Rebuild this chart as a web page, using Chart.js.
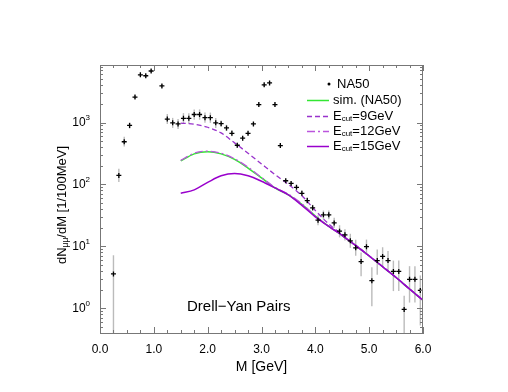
<!DOCTYPE html>
<html lang="en">
<head>
<meta charset="UTF-8">
<title>Drell-Yan Pairs</title>
<script src="https://cdn.jsdelivr.net/npm/chart.js"></script>
<style>
  body { margin: 0; background: #fff; }
  canvas { display: block; }
</style>
</head>
<body>
<canvas id="myChart" width="508" height="392"></canvas>
<script>
// NA50 data points (M in GeV, dN/dM per 100 MeV)
const massBins = [0.25, 0.35, 0.45, 0.55, 0.65, 0.75, 0.85, 0.95, 1.15, 1.25, 1.35, 1.45,
  1.55, 1.65, 1.75, 1.85, 1.95, 2.05, 2.15, 2.25, 2.35, 2.45, 2.55, 2.65, 2.75, 2.85, 2.95,
  3.05, 3.15, 3.25, 3.35, 3.45, 3.55, 3.65, 3.75, 3.85, 3.95, 4.05, 4.15, 4.25, 4.35, 4.45,
  4.55, 4.65, 4.75, 4.85, 4.95, 5.05, 5.15, 5.25, 5.35, 5.45, 5.55, 5.65, 5.75, 5.85, 5.95];
const na50 = [3.6, 140, 490, 900, 2580, 5900, 5700, 6800, 3900, 1140, 990, 950,
  1170, 1170, 1350, 1350, 1200, 1200, 990, 960, 820, 670, 430, 560, 670, 950, 1950,
  4060, 4370, 1950, 425, 115, 104, 90, 72, 55, 42, 26.5, 32.4, 32.4, 24, 17.6,
  15.4, 12.3, 9.5, 5.7, 9.9, 2.8, 5.9, 6.9, 5.9, 3.95, 3.95, 0.96, 2.94, 2.94, 1.95];
const errHi = [7.2, 180, 590, 1010, 2780, 6300, 6100, 7300, 4200, 1370, 1190, 1140,
  1420, 1420, 1630, 1630, 1450, 1450, 1190, 1080, 920, 750, 470, 610, 720, 1020, 2100,
  4370, 4700, 2100, 460, 125, 112, 97, 80, 62, 47, 32, 38, 38, 29, 22,
  19, 16, 12.8, 8.0, 12.9, 4.6, 8.9, 9.7, 8.4, 5.9, 5.9, 1.6, 4.8, 4.8, 3.4];
const errLo = [0.1, 110, 410, 800, 2400, 5500, 5300, 6300, 3600, 950, 820, 790,
  960, 960, 1110, 1110, 990, 990, 820, 860, 730, 600, 390, 510, 620, 880, 1810,
  3770, 4060, 1810, 395, 107, 97, 84, 65, 49, 37.5, 22, 27.5, 27.5, 20, 14,
  12.5, 9.5, 7.1, 3.3, 7.6, 1.08, 3.5, 4.8, 4.0, 1.9, 1.9, 0.1, 1.24, 1.24, 0.53];

// model curves
const curveMass = [1.5, 1.75, 2.0, 2.25, 2.5, 2.75, 3.0, 3.25, 3.5, 3.75, 4.0,
  4.25, 4.5, 4.75, 5.0, 5.25, 5.5, 5.75, 6.0];
const simNA50 = [240, 312, 338, 312, 254, 184, 128, 88, 68, 48, 31,
  21, 15, 10.3, 7.0, 4.7, 3.15, 2.05, 1.35];
const ecut9 = [980, 940, 840, 680, 470, 320, 215, 145, 100, 66, 38,
  23, 15.5, 10.5, 7.1, 4.75, 3.17, 2.07, 1.36];
const ecut12 = [245, 320, 345, 320, 260, 190, 130, 90, 70, 49, 31,
  21, 15, 10.3, 7.0, 4.7, 3.15, 2.05, 1.35];
const ecut15 = [72, 82, 108, 138, 150, 138, 113, 88, 68, 46, 30,
  21, 15, 10.3, 7.0, 4.7, 3.15, 2.05, 1.35];

const yTickValues = [1, 10, 100, 1000];
const xMin = 0, xMax = 6, yMin = 0.4, yMax = 8500;

const FONT = "'Liberation Sans', Arial, Helvetica, sans-serif";
const FRAME = '#777';

const pts = (xs, ys) => xs.map((m, i) => ({ x: m, y: ys[i] }));

// draws text made of pieces (for sub/superscripts), left aligned, baseline middle
function drawPieces(ctx, pieces, x, y) {
  let cx = x;
  pieces.forEach(p => {
    ctx.font = p.size + 'px ' + FONT;
    ctx.fillText(p.t, cx, y + (p.dy || 0));
    cx += ctx.measureText(p.t).width;
  });
  return cx - x;
}
function piecesWidth(ctx, pieces) {
  let w = 0;
  pieces.forEach(p => { ctx.font = p.size + 'px ' + FONT; w += ctx.measureText(p.t).width; });
  return w;
}

const legendRows = [
  { text: [{ t: 'NA50', size: 13 }], dot: true },
  { text: [{ t: 'sim. (NA50)', size: 13 }], ds: 1 },
  { text: [{ t: 'E', size: 13 }, { t: 'cut', size: 8, dy: 3 }, { t: '=9GeV', size: 13 }], ds: 2 },
  { text: [{ t: 'E', size: 13 }, { t: 'cut', size: 8, dy: 3 }, { t: '=12GeV', size: 13 }], ds: 3 },
  { text: [{ t: 'E', size: 13 }, { t: 'cut', size: 8, dy: 3 }, { t: '=15GeV', size: 13 }], ds: 4 }
];
const legendY = [84, 100, 116, 131, 146];

const decor = {
  id: 'decor',
  beforeDatasetsDraw(chart) {
    const { ctx, chartArea: a, scales: { x, y } } = chart;
    ctx.save();
    ctx.beginPath();
    ctx.rect(a.left, a.top, a.right - a.left, a.bottom - a.top);
    ctx.clip();
    ctx.strokeStyle = '#bbbbbb';
    ctx.lineWidth = 1.4;
    massBins.forEach((m, i) => {
      const px = x.getPixelForValue(m);
      ctx.beginPath();
      ctx.moveTo(px, y.getPixelForValue(errHi[i]));
      ctx.lineTo(px, y.getPixelForValue(errLo[i]));
      ctx.stroke();
    });
    ctx.restore();
  },
  afterDraw(chart) {
    const { ctx, chartArea: a, scales: { x, y } } = chart;
    ctx.save();
    // top and right frame
    ctx.strokeStyle = FRAME;
    ctx.lineWidth = 1;
    ctx.beginPath();
    ctx.moveTo(a.left, a.top + 0.5); ctx.lineTo(a.right, a.top + 0.5);
    ctx.moveTo(a.right - 0.5, a.top); ctx.lineTo(a.right - 0.5, a.bottom);
    ctx.stroke();

    // inward ticks
    ctx.beginPath();
    for (let v = xMin; v <= xMax + 1e-9; v += 0.25) {
      const px = Math.round(x.getPixelForValue(v)) + 0.5;
      const len = Math.abs(v - Math.round(v)) < 1e-6 ? 6 : 3;
      ctx.moveTo(px, a.bottom); ctx.lineTo(px, a.bottom - len);
      ctx.moveTo(px, a.top); ctx.lineTo(px, a.top + len);
    }
    for (let e = -1; e <= 3; e++) {
      for (let k = 1; k <= 9; k++) {
        const v = k * Math.pow(10, e);
        if (v < yMin || v > yMax) continue;
        const py = Math.round(y.getPixelForValue(v)) + 0.5;
        const len = k === 1 ? 6 : 3;
        ctx.moveTo(a.left, py); ctx.lineTo(a.left + len, py);
        ctx.moveTo(a.right, py); ctx.lineTo(a.right - len, py);
      }
    }
    ctx.stroke();

    ctx.fillStyle = '#000';
    ctx.textBaseline = 'middle';
    ctx.textAlign = 'left';

    // y tick labels 10^n
    yTickValues.forEach(v => {
      const py = y.getPixelForValue(v);
      const exp = String(Math.round(Math.log10(v)));
      const pieces = [{ t: '10', size: 12 }, { t: exp, size: 8, dy: -5 }];
      const w = piecesWidth(ctx, pieces);
      drawPieces(ctx, pieces, 90 - w, py);
    });

    // y axis title with subscript
    const title = [{ t: 'dN', size: 13 }, { t: 'μμ', size: 8.5, dy: 4 }, { t: '/dM [1/100MeV]', size: 13 }];
    const tw = piecesWidth(ctx, title);
    ctx.save();
    ctx.translate(62, 205);
    ctx.rotate(-Math.PI / 2);
    drawPieces(ctx, title, -tw / 2, 0);
    ctx.restore();

    // legend
    const dsets = chart.data.datasets;
    legendRows.forEach((row, i) => {
      const ly = legendY[i];
      if (row.dot) {
        ctx.beginPath();
        ctx.arc(329, ly, 1.5, 0, Math.PI * 2);
        ctx.fill();
        drawPieces(ctx, row.text, 337, ly);
      } else {
        const ds = dsets[row.ds];
        ctx.save();
        ctx.strokeStyle = ds.borderColor;
        ctx.lineWidth = ds.borderWidth;
        ctx.setLineDash(ds.borderDash || []);
        ctx.beginPath();
        ctx.moveTo(307, ly + 0.5); ctx.lineTo(329, ly + 0.5);
        ctx.stroke();
        ctx.restore();
        drawPieces(ctx, row.text, 333, ly);
      }
    });

    // label inside the plot
    drawPieces(ctx, [{ t: 'Drell\u2212Yan Pairs', size: 15 }], 187, 307);
    ctx.restore();
  }
};

const ctx = document.getElementById('myChart').getContext('2d');
const myChart = new Chart(ctx, {
  type: 'line',
  data: {
    datasets: [
      {
        label: 'NA50',
        data: pts(massBins, na50),
        showLine: false,
        pointStyle: 'cross',
        pointRadius: 2.5,
        borderColor: '#000',
        backgroundColor: '#000',
        borderWidth: 1.3,
        order: 0
      },
      {
        label: 'sim. (NA50)',
        data: pts(curveMass, simNA50),
        borderColor: '#33e633',
        borderWidth: 1.5,
        pointRadius: 0,
        cubicInterpolationMode: 'monotone',
        order: 4
      },
      {
        label: 'Ecut=9GeV',
        data: pts(curveMass, ecut9),
        borderColor: '#9933cc',
        borderWidth: 1.3,
        borderDash: [5, 3],
        pointRadius: 0,
        cubicInterpolationMode: 'monotone',
        order: 3
      },
      {
        label: 'Ecut=12GeV',
        data: pts(curveMass, ecut12),
        borderColor: '#bb55dd',
        borderWidth: 1.3,
        borderDash: [8, 3, 2, 3],
        pointRadius: 0,
        cubicInterpolationMode: 'monotone',
        order: 2
      },
      {
        label: 'Ecut=15GeV',
        data: pts(curveMass, ecut15),
        borderColor: '#9900cc',
        borderWidth: 1.5,
        pointRadius: 0,
        cubicInterpolationMode: 'monotone',
        order: 1
      }
    ]
  },
  options: {
    responsive: false,
    animation: false,
    layout: { padding: { left: 0, right: 85, top: 65, bottom: 0 } },
    scales: {
      x: {
        type: 'linear',
        min: xMin,
        max: xMax,
        grid: { display: false, drawTicks: false },
        border: { display: true, color: FRAME, width: 1 },
        ticks: {
          stepSize: 1,
          maxRotation: 0,
          padding: 9,
          color: '#000',
          font: { family: FONT, size: 12 },
          callback: v => Number(v).toFixed(1)
        },
        title: {
          display: true,
          text: 'M [GeV]',
          color: '#000',
          font: { family: FONT, size: 14 },
          padding: { top: 0, bottom: 16 }
        },
        afterFit: s => { s.height = 59; }
      },
      y: {
        type: 'logarithmic',
        min: yMin,
        max: yMax,
        grid: { display: false, drawTicks: false },
        border: { display: true, color: FRAME, width: 1 },
        ticks: { display: false },
        afterFit: s => { s.width = 100; }
      }
    },
    plugins: {
      legend: { display: false },
      tooltip: { enabled: false }
    }
  },
  plugins: [decor]
});
</script>
</body>
</html>
